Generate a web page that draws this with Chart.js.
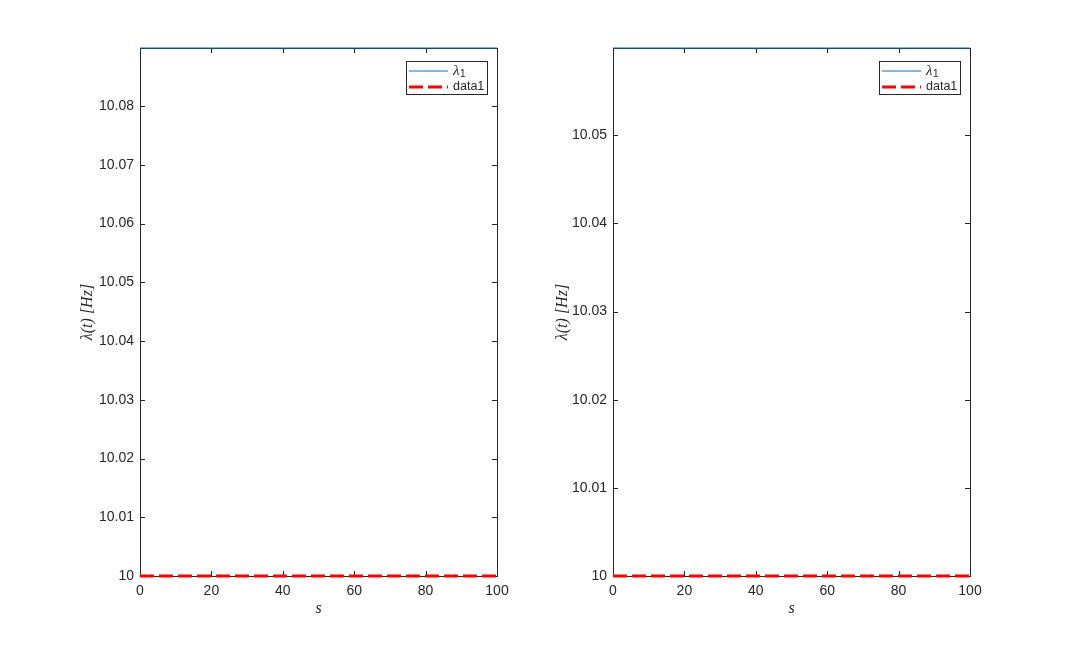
<!DOCTYPE html>
<html>
<head>
<meta charset="utf-8">
<script src="https://cdn.jsdelivr.net/npm/chart.js@4.4.1/dist/chart.umd.min.js"></script>
<style>
body { margin: 0; background: #fff; }
#wrap { position: relative; width: 1074px; height: 648px; background: #fff; }
canvas { position: absolute; top: 0; }
#leftPlot { left: 0; }
#rightPlot { left: 537px; }
</style>
</head>
<body>
<div id="wrap">
<canvas id="leftPlot" width="537" height="648"></canvas>
<canvas id="rightPlot" width="537" height="648"></canvas>
</div>
<script>
// values
const timeS = [0, 20, 40, 60, 80, 100];
const xTicks = [0, 20, 40, 60, 80, 100];

const lambdaLeft = [10.0899, 10.0899, 10.0899, 10.0899, 10.0899, 10.0899];
const data1Left = [10, 10, 10, 10, 10, 10];
const yTicksLeft = [10, 10.01, 10.02, 10.03, 10.04, 10.05, 10.06, 10.07, 10.08];

const lambdaRight = [10.0599, 10.0599, 10.0599, 10.0599, 10.0599, 10.0599];
const data1Right = [10, 10, 10, 10, 10, 10];
const yTicksRight = [10, 10.01, 10.02, 10.03, 10.04, 10.05];

const TICK_LEN = 5;
const AXIS_COLOR = '#262626';

// MATLAB style box with inward ticks on all four sides
const boxPlugin = {
    id: 'box',
    beforeDatasetsDraw(chart) {
        const { ctx, chartArea: a, scales: { x, y } } = chart;
        ctx.save();
        ctx.strokeStyle = AXIS_COLOR;
        ctx.lineWidth = 1;
        ctx.beginPath();
        x.ticks.forEach(t => {
            const px = Math.round(x.getPixelForValue(t.value)) + 0.5;
            ctx.moveTo(px, a.bottom); ctx.lineTo(px, a.bottom - TICK_LEN);
            ctx.moveTo(px, a.top); ctx.lineTo(px, a.top + TICK_LEN);
        });
        y.ticks.forEach(t => {
            const py = Math.round(y.getPixelForValue(t.value)) + 0.5;
            ctx.moveTo(a.left, py); ctx.lineTo(a.left + TICK_LEN, py);
            ctx.moveTo(a.right, py); ctx.lineTo(a.right - TICK_LEN, py);
        });
        ctx.stroke();
        ctx.strokeRect(a.left + 0.5, a.top + 0.5, a.right - a.left, a.bottom - a.top);
        ctx.restore();
    }
};

const legendPlugin = {
    id: 'boxLegend',
    afterDatasetsDraw(chart) {
        const { ctx, chartArea: a } = chart;
        const w = 81, h = 33;
        const bx = a.right - 10 - w, by = a.top + 13;
        ctx.save();
        ctx.fillStyle = '#fff';
        ctx.fillRect(bx, by, w, h);
        ctx.strokeStyle = AXIS_COLOR;
        ctx.lineWidth = 1;
        ctx.strokeRect(bx + 0.5, by + 0.5, w, h);
        chart.data.datasets.forEach((ds, i) => {
            const cy = by + 10 + i * 16;
            ctx.beginPath();
            ctx.strokeStyle = ds.borderColor;
            ctx.lineWidth = ds.borderWidth;
            ctx.setLineDash(ds.borderDash || []);
            ctx.moveTo(bx + 3, cy);
            ctx.lineTo(bx + 42, cy);
            ctx.stroke();
            ctx.setLineDash([]);
            ctx.fillStyle = AXIS_COLOR;
            ctx.textBaseline = 'middle';
            ctx.textAlign = 'left';
            if (ds.label.endsWith('₁')) {
                ctx.font = 'italic 15px "Liberation Serif"';
                ctx.fillText('λ', bx + 47, cy);
                const lw = ctx.measureText('λ').width;
                ctx.font = '10px "Liberation Sans"';
                ctx.fillText('1', bx + 47 + lw + 0.5, cy + 3);
            } else {
                ctx.font = '12.5px "Liberation Sans"';
                ctx.fillText(ds.label, bx + 47, cy);
            }
        });
        ctx.restore();
    }
};

const tickFont = { family: 'Liberation Sans', size: 14 };
const titleFont = { family: 'Liberation Serif', size: 16, style: 'italic' };

function makeChart(id, lambdaVals, data1Vals, yTicks, yMax, yWidth, rightPad, yTitlePad) {
    return new Chart(document.getElementById(id), {
        type: 'line',
        data: {
            datasets: [{
                label: 'λ₁',
                data: timeS.map((t, i) => ({ x: t, y: lambdaVals[i] })),
                borderColor: '#0072BD',
                borderWidth: 1,
                pointRadius: 0,
                fill: false,
                clip: false
            }, {
                label: 'data1',
                data: timeS.map((t, i) => ({ x: t, y: data1Vals[i] })),
                borderColor: '#FF0000',
                borderWidth: 3,
                borderDash: [14, 5],
                pointRadius: 0,
                fill: false,
                clip: false
            }]
        },
        options: {
            responsive: false,
            animation: false,
            layout: { padding: { top: 48, right: rightPad, bottom: 0, left: 0 } },
            plugins: { legend: { display: false }, tooltip: { enabled: false } },
            scales: {
                x: {
                    type: 'linear', min: 0, max: 100, bounds: 'data',
                    grid: { display: false, drawTicks: false },
                    border: { display: false },
                    ticks: { padding: 7, color: AXIS_COLOR, font: tickFont, maxRotation: 0, autoSkip: false },
                    afterBuildTicks: s => { s.ticks = xTicks.map(v => ({ value: v })); },
                    afterFit: s => { s.height = 72; },
                    title: { display: true, text: 's', color: AXIS_COLOR, font: titleFont, padding: { top: 0, bottom: 30 } }
                },
                y: {
                    type: 'linear', min: 10, max: yMax, bounds: 'data',
                    grid: { display: false, drawTicks: false },
                    border: { display: false },
                    ticks: {
                        padding: 6, color: AXIS_COLOR, font: tickFont, autoSkip: false,
                        callback: v => v === 10 ? '10' : v.toFixed(2)
                    },
                    afterBuildTicks: s => { s.ticks = yTicks.map(v => ({ value: v })); },
                    afterFit: s => { s.width = yWidth; },
                    title: { display: true, text: 'λ(t) [Hz]', color: AXIS_COLOR, font: titleFont, padding: { top: yTitlePad, bottom: 0 } }
                }
            }
        },
        plugins: [boxPlugin, legendPlugin]
    });
}

makeChart('leftPlot', lambdaLeft, data1Left, yTicksLeft, 10.0899, 140, 40, 78);
makeChart('rightPlot', lambdaRight, data1Right, yTicksRight, 10.0599, 76, 104, 16);
</script>
</body>
</html>
